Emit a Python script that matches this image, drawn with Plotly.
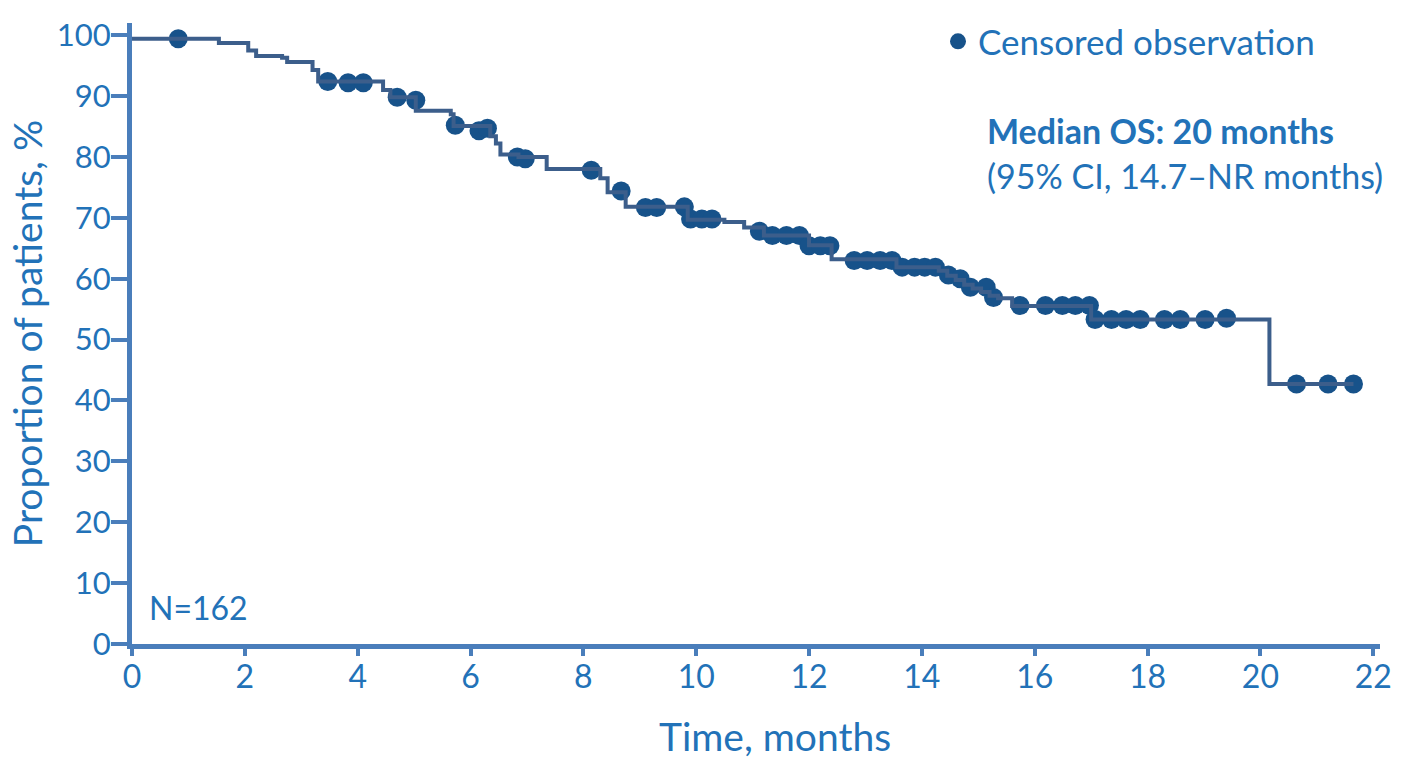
import plotly.graph_objects as go

# Kaplan-Meier overall survival (N=162)
# Step curve: time of each drop (months) and survival level (%) after it
start_level = 99.4
event_times = [1.54, 2.06, 2.20, 2.66, 2.75, 3.20, 3.30, 4.45, 4.58, 5.03,
               5.65, 5.70, 6.35, 6.45, 6.53, 6.85, 7.35, 8.30, 8.43, 8.75,
               9.85, 10.50, 10.85, 11.20, 12.00, 12.40, 13.55, 14.30, 14.45,
               14.60, 14.75, 14.90, 15.05, 15.20, 15.35, 15.60, 17.00, 20.16]
event_levels = [98.7, 97.5, 96.6, 96.3, 95.6, 94.3, 92.4, 91.0, 89.8, 87.6,
                87.0, 85.1, 83.4, 82.2, 80.4, 80.0, 78.0, 76.5, 74.2, 71.8,
                69.7, 69.3, 68.4, 67.1, 65.5, 63.2, 61.9, 61.3, 60.5,
                59.8, 59.0, 58.4, 57.8, 57.2, 56.8, 55.5, 53.3, 42.7]
last_followup = 21.65

# Censored observations
censor_times = [0.82, 3.47, 3.83, 4.10, 4.70, 5.03, 5.73, 6.15, 6.30, 6.83,
                6.97, 8.14, 8.67, 9.10, 9.30, 9.79, 9.90, 10.10, 10.28, 11.12,
                11.35, 11.60, 11.83, 12.00, 12.20, 12.37, 12.80, 13.03, 13.26,
                13.47, 13.65, 13.87, 14.05, 14.24, 14.47, 14.68, 14.86, 15.14,
                15.27, 15.74, 16.19, 16.49, 16.72, 16.97, 17.07, 17.36, 17.62,
                17.87, 18.30, 18.58, 19.02, 19.40, 20.64, 21.20, 21.65]
censor_levels = [99.4, 92.4, 92.2, 92.2, 89.8, 89.3, 85.2, 84.3, 84.7, 80.0,
                 79.7, 77.8, 74.4, 71.7, 71.7, 71.8, 69.8, 69.8, 69.8, 67.8,
                 67.1, 67.1, 67.1, 65.4, 65.4, 65.4, 63.0, 63.0, 63.0,
                 63.0, 61.9, 61.9, 61.9, 61.9, 60.6, 60.0, 58.6, 58.6,
                 56.9, 55.6, 55.6, 55.6, 55.6, 55.6, 53.3, 53.3, 53.3,
                 53.3, 53.3, 53.3, 53.3, 53.5, 42.7, 42.7, 42.7]

x_ticks = list(range(0, 23, 2))
y_ticks = list(range(0, 101, 10))

TEXT = "#2272B8"
AXIS = "#4A7EBB"
CURVE = "#3C5E8B"
DOT = "#17528A"
FONT = "Lato"

# plot-area geometry in pixels, used to place the free text
TOP, BOTTOM, LEFT, RIGHT = 18, 116, 132, 24
PLOT_H = 760 - TOP - BOTTOM
PLOT_W = 1404 - LEFT - RIGHT
Y0 = 760 - BOTTOM


def px_y(py):
    return (Y0 - py) / PLOT_H


def px_x(px):
    return (px - LEFT) / PLOT_W


curve_x = [0] + event_times + [last_followup]
curve_y = [start_level] + event_levels + [event_levels[-1]]

fig = go.Figure()
fig.add_trace(go.Scatter(
    x=censor_times, y=censor_levels, mode="markers",
    name="Censored observation",
    marker=dict(color=DOT, size=19, line=dict(width=0)),
    showlegend=True,
))
fig.add_trace(go.Scatter(
    x=curve_x, y=curve_y, mode="lines", line_shape="hv",
    line=dict(color=CURVE, width=4), showlegend=False,
))

fig.update_layout(
    width=1404, height=760,
    margin=dict(l=LEFT, r=RIGHT, t=TOP, b=BOTTOM),
    paper_bgcolor="white", plot_bgcolor="white",
    font=dict(family=FONT, color=TEXT, size=34),
    legend=dict(
        x=px_x(938), y=px_y(7), xanchor="left", yanchor="top",
        font=dict(size=35, color=TEXT, family=FONT),
        bgcolor="rgba(0,0,0,0)", itemsizing="trace",
    ),
    xaxis=dict(
        range=[0, 22.12], tickvals=x_ticks, showgrid=False, zeroline=False,
        showline=True, linecolor=AXIS, linewidth=5,
        ticks="outside", ticklen=7, tickwidth=4, tickcolor=AXIS,
        ticklabelstandoff=-6,
        tickfont=dict(size=32, color=TEXT, family=FONT),
    ),
    yaxis=dict(
        range=[0, 102], tickvals=y_ticks, showgrid=False, zeroline=False,
        showline=True, linecolor=AXIS, linewidth=5,
        ticks="outside", ticklen=16, tickwidth=4, tickcolor=AXIS,
        ticklabelstandoff=-6,
        tickfont=dict(size=31, color=TEXT, family=FONT),
        title=dict(text="Proportion of patients, %", font=dict(size=39, color=TEXT, family=FONT), standoff=4),
    ),
    annotations=[
        dict(text="Time, months", xref="paper", yref="paper",
             x=px_x(775), y=px_y(737),
             xanchor="center", yanchor="middle", showarrow=False,
             font=dict(size=39, color=TEXT, family=FONT)),
        dict(text="N=162", xref="paper", yref="paper", x=px_x(147), y=px_y(607),
             xanchor="left", yanchor="middle", showarrow=False,
             font=dict(size=32, color=TEXT, family=FONT)),
        dict(text="<b>Median OS: 20 months</b>", xref="paper", yref="paper",
             x=px_x(985), y=px_y(126), xanchor="left", yanchor="middle", showarrow=False,
             font=dict(size=34, color=TEXT, family=FONT)),
        dict(text="(95% CI, 14.7\u2013NR months)", xref="paper", yref="paper",
             x=px_x(985), y=px_y(172), xanchor="left", yanchor="middle", showarrow=False,
             font=dict(size=34, color=TEXT, family=FONT)),
    ],
)

fig.write_html("out.html")
